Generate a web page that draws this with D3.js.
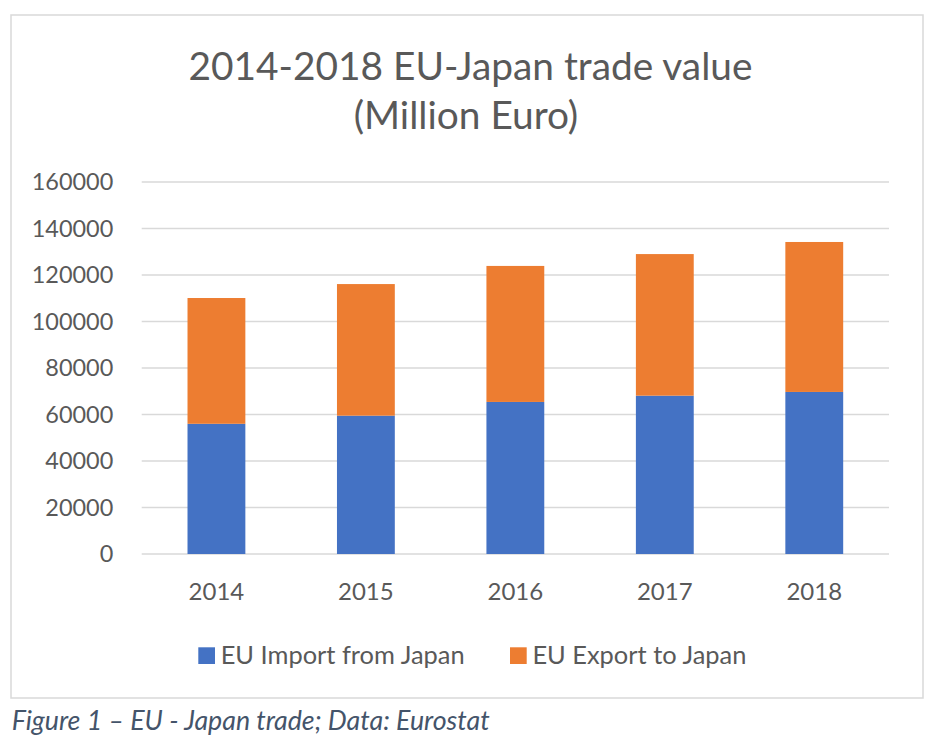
<!DOCTYPE html>
<html>
<head>
<meta charset="utf-8">
<script src="https://cdn.jsdelivr.net/npm/d3@7"></script>
<style>
  html, body { margin: 0; padding: 0; background: #ffffff; }
  svg { display: block; }
  text { font-family: Lato, "Open Sans", sans-serif; }
</style>
</head>
<body>
<svg id="chart" width="944" height="740"></svg>
<script>
// ---- data ----
const years = ["2014", "2015", "2016", "2017", "2018"];
const importFromJapan = [56000, 59500, 65400, 68100, 69700];
const exportToJapan = [54100, 56600, 58500, 60900, 64500];
const seriesNames = ["EU Import from Japan", "EU Export to Japan"];
const yTicks = [0, 20000, 40000, 60000, 80000, 100000, 120000, 140000, 160000];
const titleLines = ["2014-2018 EU-Japan trade value", "(Million Euro)"];
const caption = "Figure 1 \u2013 EU - Japan trade; Data: Eurostat";

// ---- styles ----
const colors = ["#4472C4", "#ED7D31"];
const textColor = "#595959";
const gridColor = "#D9D9D9";

const svg = d3.select("#chart");

// fit a text element's font-size so its rendered width matches a target
function fitWidth(sel, target) {
  const base = parseFloat(sel.attr("font-size"));
  const w = sel.node().getComputedTextLength();
  if (w > 0) sel.attr("font-size", (base * target / w).toFixed(2));
  return sel;
}

// frame
svg.append("rect")
  .attr("x", 11).attr("y", 15).attr("width", 912).attr("height", 683)
  .attr("fill", "#fff").attr("stroke", gridColor).attr("stroke-width", 1.5);

// scales
const x = d3.scaleBand().domain(years).range([141.7, 889]).padding(0);
const y = d3.scaleLinear().domain([0, 160000]).range([554, 182]);
const barW = x.bandwidth() * 0.387;

// gridlines
svg.append("g").selectAll("line").data(yTicks).join("line")
  .attr("x1", x.range()[0]).attr("x2", x.range()[1])
  .attr("y1", d => y(d)).attr("y2", d => y(d))
  .attr("stroke", gridColor).attr("stroke-width", 1.4);

// y axis labels
const yLab = svg.append("g").selectAll("text").data(yTicks).join("text")
  .attr("x", 113.3).attr("y", d => y(d) + 8.3)
  .attr("text-anchor", "end").attr("fill", textColor)
  .attr("font-size", 24)
  .text(d => d);
// fit size using widest label
{
  const widest = yLab.filter(d => d === 160000);
  const base = 24;
  const w = widest.node().getComputedTextLength();
  const fs = base * 81.6 / w;
  yLab.attr("font-size", fs.toFixed(2));
}

// stacked data
const stackData = years.map((yr, i) => ({ year: yr, imp: importFromJapan[i], exp: exportToJapan[i] }));
const stacked = d3.stack().keys(["imp", "exp"])(stackData);

svg.append("g").selectAll("g").data(stacked).join("g")
  .attr("fill", (d, i) => colors[i])
  .selectAll("rect").data(d => d).join("rect")
  .attr("x", d => x(d.data.year) + x.bandwidth() / 2 - barW / 2)
  .attr("width", barW)
  .attr("y", d => y(d[1]))
  .attr("height", d => y(d[0]) - y(d[1]));

// x axis labels
const xLab = svg.append("g").selectAll("text").data(years).join("text")
  .attr("x", d => x(d) + x.bandwidth() / 2).attr("y", 600)
  .attr("text-anchor", "middle").attr("fill", textColor)
  .attr("font-size", 24)
  .text(d => d);
{
  const w = xLab.node().getComputedTextLength();
  xLab.attr("font-size", (24 * 55.7 / w).toFixed(2));
}

// title
const t1 = svg.append("text").attr("x", 470.5).attr("y", 80)
  .attr("text-anchor", "middle").attr("fill", textColor).attr("font-size", 40)
  .text(titleLines[0]);
fitWidth(t1, 564);
const t2 = svg.append("text").attr("x", 466).attr("y", 129)
  .attr("text-anchor", "middle").attr("fill", textColor)
  .attr("font-size", t1.attr("font-size"))
  .text(titleLines[1]);

// legend
const legendX = [198.3, 510];
const legend = svg.append("g").selectAll("g").data(seriesNames).join("g")
  .attr("transform", (d, i) => `translate(${legendX[i]},0)`);
legend.append("rect")
  .attr("x", 0).attr("y", 647.3).attr("width", 16.7).attr("height", 16.7)
  .attr("fill", (d, i) => colors[i]);
const legText = legend.append("text")
  .attr("x", 22.4).attr("y", 663.5).attr("fill", textColor).attr("font-size", 24)
  .text(d => d);
{
  const w = legText.node().getComputedTextLength();
  legText.attr("font-size", (24 * 244 / w).toFixed(2));
}

// caption
const cap = svg.append("text").attr("x", 11.7).attr("y", 730)
  .attr("fill", "#44546A").attr("font-style", "italic").attr("font-size", 24)
  .text(caption);
fitWidth(cap, 478);
</script>
</body>
</html>
